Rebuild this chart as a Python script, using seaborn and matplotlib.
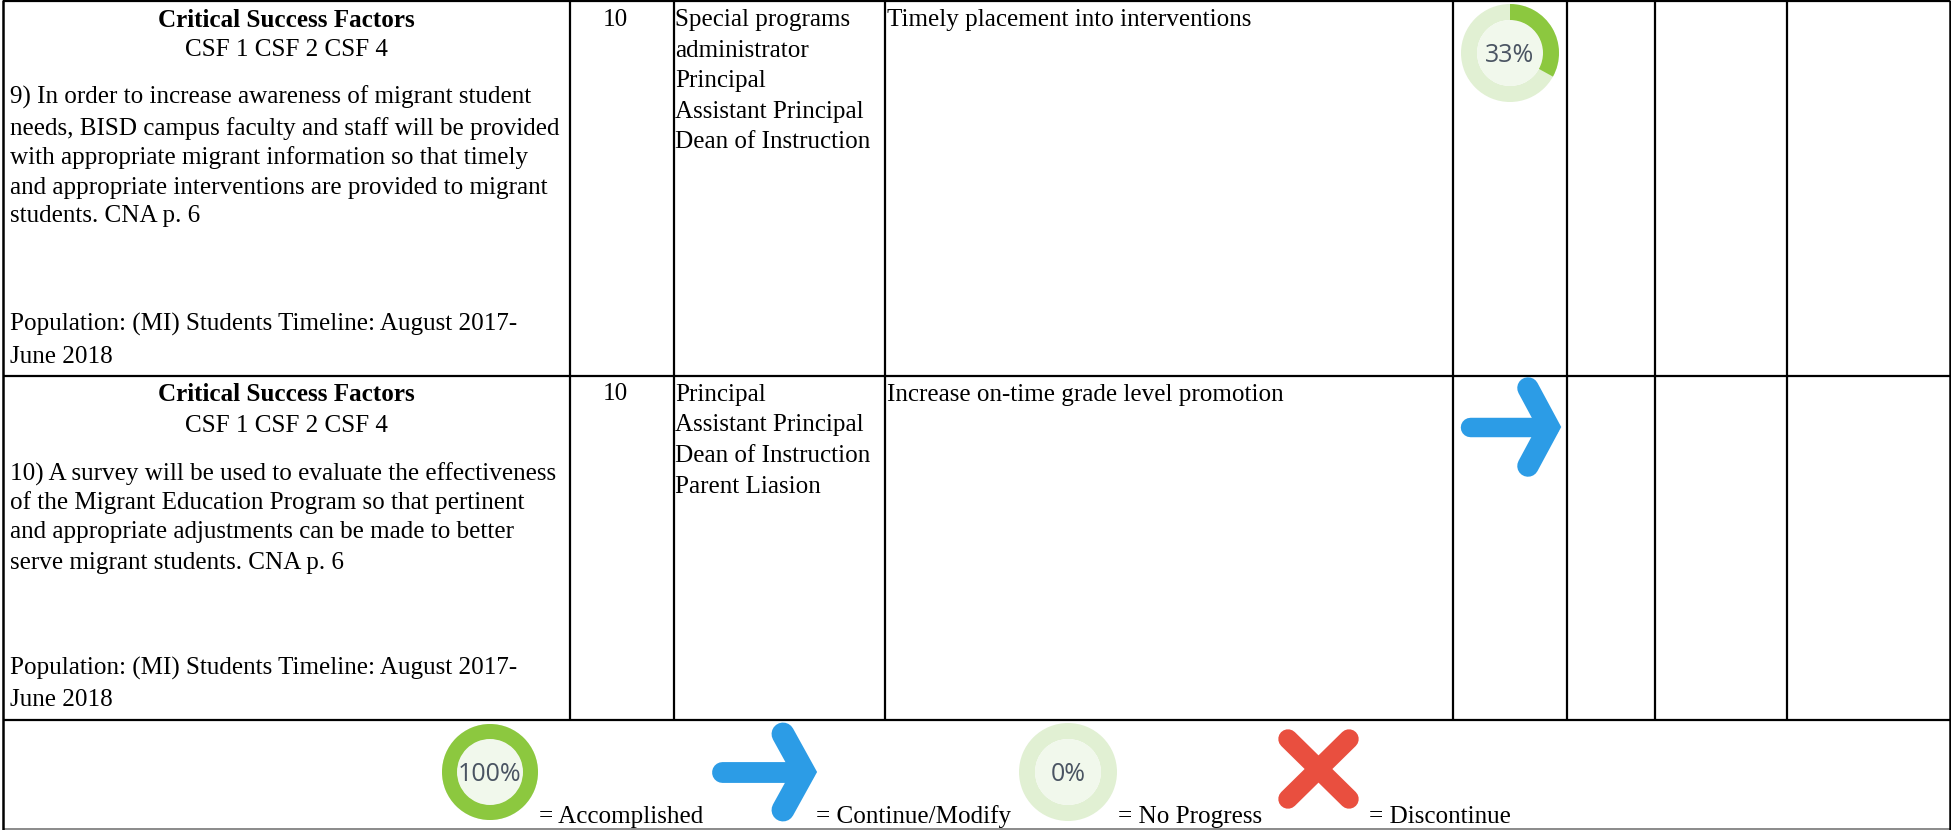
import seaborn as sns
import matplotlib.pyplot as plt
from matplotlib.patches import Wedge, Circle

# table content
row_titles = ['Critical Success Factors', 'Critical Success Factors']
row_csf = ['CSF 1 CSF 2 CSF 4', 'CSF 1 CSF 2 CSF 4']
row9_strategy = ['9) In order to increase awareness of migrant student',
                 'needs, BISD campus faculty and staff will be provided',
                 'with appropriate migrant information so that timely',
                 'and appropriate interventions are provided to migrant',
                 'students. CNA p. 6']
row10_strategy = ['10) A survey will be used to evaluate the effectiveness',
                  'of the Migrant Education Program so that pertinent',
                  'and appropriate adjustments can be made to better',
                  'serve migrant students. CNA p. 6']
population = ['Population: (MI) Students Timeline: August 2017-', 'June 2018']
priority = ['10', '10']
row9_staff = ['Special programs', 'administrator', 'Principal', 'Assistant Principal', 'Dean of Instruction']
row10_staff = ['Principal', 'Assistant Principal', 'Dean of Instruction', 'Parent Liasion']
outcomes = ['Timely placement into interventions', 'Increase on-time grade level promotion']
row9_progress = 33
legend_accomplished = 100
legend_no_progress = 0
legend_labels = ['= Accomplished', '= Continue/Modify', '= No Progress', '= Discontinue']

GREEN = '#8CC83F'
LIGHT = '#E1F0D3'
INNER = '#F1F8EC'
BLUE = '#2C9CE6'
RED = '#E94F3F'

sns.set_theme(style='white')
plt.rcParams['font.family'] = ['Liberation Serif', 'DejaVu Serif']

fig = plt.figure(figsize=(19.51, 8.30), dpi=100)
ax = fig.add_axes([0, 0, 1, 1])
ax.set_xlim(0, 1951)
ax.set_ylim(830, 0)
ax.axis('off')

FS = 18.1


def donut(x, y, r, pct, fs):
    ax.add_patch(Wedge((x, y), r, 0, 360, width=r - 33, fc=LIGHT, ec='none'))
    ax.add_patch(Circle((x, y), 33, fc=INNER, ec='none'))
    if pct > 0:
        ax.add_patch(Wedge((x, y), r, -90, -90 + 3.6 * pct, width=r - 33, fc=GREEN, ec='none'))
    ax.text(x, y + 2, f'{pct}%', family='Open Sans', fontsize=fs, color='#4A5462', ha='center', va='center')


def arrow(x0, x1, y, dy, lw):
    tip = x1 - 11
    ax.plot([x0, tip], [y, y], color=BLUE, lw=lw, solid_capstyle='round')
    ax.plot([tip - 21, tip, tip - 21], [y - dy, y, y + dy], color=BLUE, lw=lw + 1.5,
            solid_capstyle='round', solid_joinstyle='miter')


def lines(x, ys, texts, **kw):
    for y, t in zip(ys, texts):
        ax.text(x, y, t, fontsize=FS, color='black', va='baseline', **kw)


# grid
ax.hlines([1, 376, 720], 3, 1950, color='black', lw=1.6)
ax.hlines([829], 3, 1950, color='#777777', lw=1.2)
ax.vlines([3, 1950], 0, 830, color='black', lw=1.8)
ax.vlines([570, 674, 885, 1453, 1567, 1655, 1787], 0, 720, color='black', lw=1.6)

# first column
lines(286, [27, 401], row_titles, ha='center', fontweight='bold')
lines(286, [56, 432], row_csf, ha='center')
lines(10, [104, 135, 164, 194, 222], row9_strategy)
lines(10, [481, 509, 538, 569], row10_strategy)
lines(10, [331, 363], population)
lines(10, [675, 706], population)

lines(615, [26, 400], priority, ha='center')
lines(675, [26, 57, 87, 118, 148], row9_staff)
lines(675, [401, 431, 462, 493], row10_staff)
lines(887, [26, 401], outcomes)

# status marks
donut(1510, 53, 49, row9_progress, 18)
arrow(1470, 1560, 427, 39, 14)

# legend
donut(490, 772, 48, legend_accomplished, 18)
arrow(722, 815, 772, 38, 15)
donut(1068, 772, 49, legend_no_progress, 18)
ax.plot([1288, 1349], [739, 799], color=RED, lw=14, solid_capstyle='round')
ax.plot([1349, 1288], [739, 799], color=RED, lw=14, solid_capstyle='round')
for x, label in zip([539, 816, 1118, 1369], legend_labels):
    ax.text(x, 823, label, fontsize=FS, color='black', va='baseline')

fig.savefig('out.png', dpi=100)
